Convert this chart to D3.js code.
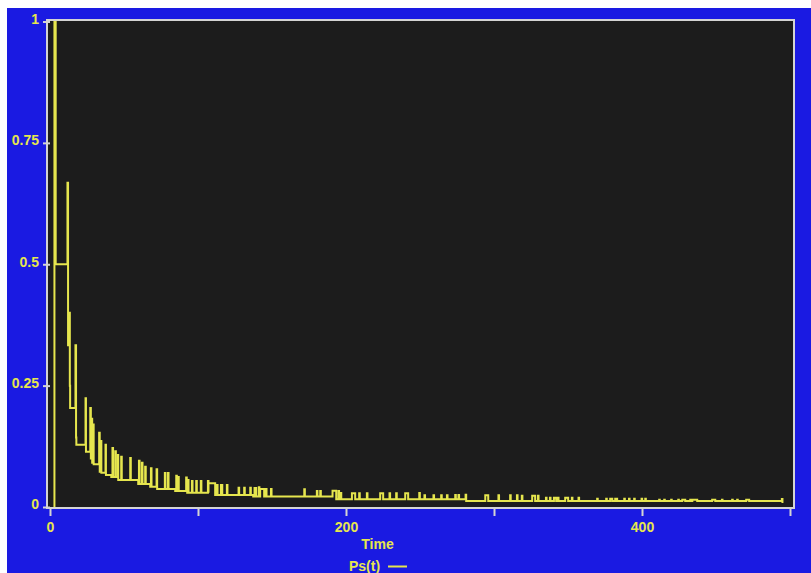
<!DOCTYPE html>
<html>
<head>
<meta charset="utf-8">
<script src="https://cdn.jsdelivr.net/npm/d3@7"></script>
<style>
  html, body { margin: 0; padding: 0; background: #ffffff; }
  svg { display: block; }
  text { font-family: 'Liberation Sans', Arial, sans-serif; font-weight: bold; }
</style>
</head>
<body>
<div id="chart"></div>
<script>
// baseline steps of Ps(t): time at which the level changes, and the new level
const baseT = [3.0, 3.0, 3.85, 11.8, 12.2, 13.2, 13.4, 13.6, 17.2, 17.6, 17.8,
  24.0, 24.3, 27.2, 27.6, 28.0, 28.5, 29.0, 29.5, 33.2, 33.6, 34.4, 34.7,
  37.5, 37.8, 41.4, 46.1, 59.6, 67.7, 72.4, 84.6, 92.7, 111.6, 137.3,
  193.4, 281.2, 494.9];
const baseV = [0, 1, 0.5, 0.668, 0.333, 0.4, 0.25, 0.204, 0.333, 0.143, 0.128,
  0.224, 0.114, 0.204, 0.1, 0.182, 0.091, 0.17, 0.088, 0.153, 0.0727, 0.136, 0.0707,
  0.128, 0.066, 0.0618, 0.0556, 0.0474, 0.0418, 0.0371, 0.033, 0.0295, 0.0247, 0.0216,
  0.0159, 0.0124, 0.0082];

// short excursions above the baseline: start, end, peak
const spikeStart = [42.2, 44.1, 45.9, 48.1, 54.2, 60.1, 62.1, 64.3, 68.2, 72.0,
  77.6, 79.7, 85.3, 86.6, 92.0, 93.2, 95.9, 98.8, 101.9, 106.7, 107.1,
  112.8, 115.5, 119.5, 127.4, 131.2, 135.3, 138.2, 141.1, 142.0, 145.9, 149.3,
  171.8, 180.3, 182.6, 190.9, 194.9, 195.6, 204.0, 208.9, 214.1, 223.1, 229.4,
  233.9, 240.0, 249.5, 253.0, 259.1, 264.3, 268.2, 273.8, 276.0, 280.8,
  294.1, 303.0, 310.9, 315.5, 318.8, 325.8, 329.7, 335.1, 337.8, 340.5, 343.2,
  348.1, 352.6, 357.1, 369.7, 375.8, 378.5, 381.9, 388.0, 391.2, 394.7, 399.7,
  402.2, 411.6, 415.0, 419.7, 424.5, 427.2, 432.6, 434.0, 447.4, 454.0, 460.9,
  464.3, 470.4, 494.5];
const spikeEnd = [42.6, 44.5, 46.1, 48.5, 54.6, 60.5, 62.5, 64.7, 68.6, 72.4,
  78.0, 80.1, 85.7, 87.0, 92.4, 93.6, 96.3, 99.2, 102.3, 107.1, 111.6,
  113.2, 116.4, 119.9, 127.8, 131.6, 135.7, 139.3, 141.5, 144.7, 146.3, 149.7,
  172.2, 180.7, 183.0, 193.4, 195.3, 196.8, 206.2, 209.3, 214.5, 225.1, 229.8,
  234.3, 242.0, 249.9, 253.4, 259.5, 264.7, 268.6, 274.2, 276.4, 281.2,
  296.1, 303.4, 311.3, 315.9, 319.2, 327.8, 330.1, 335.5, 338.2, 342.0, 343.6,
  350.1, 353.0, 357.5, 370.1, 376.2, 379.9, 383.2, 388.4, 391.6, 395.1, 400.1,
  402.6, 412.0, 415.4, 420.1, 424.9, 429.2, 433.0, 437.3, 449.5, 454.4, 461.3,
  464.7, 472.4, 494.9];
const spikePeak = [0.1216, 0.115, 0.107, 0.1036, 0.101, 0.0954, 0.0913, 0.083, 0.080, 0.078,
  0.070, 0.070, 0.0645, 0.062, 0.061, 0.0556, 0.0536, 0.0536, 0.0536, 0.0536, 0.0488,
  0.0453, 0.0453, 0.0453, 0.0398, 0.0398, 0.0398, 0.039, 0.0406, 0.037, 0.037, 0.037,
  0.0365, 0.033, 0.033, 0.0336, 0.033, 0.0288, 0.0282, 0.0282, 0.0282, 0.0282, 0.0282,
  0.0282, 0.0282, 0.0288, 0.024, 0.024, 0.024, 0.024, 0.0247, 0.0247, 0.0253,
  0.024, 0.024, 0.024, 0.024, 0.0233, 0.0233, 0.0233, 0.0192, 0.0192, 0.0192, 0.0192,
  0.0192, 0.0192, 0.0192, 0.0171, 0.0171, 0.0171, 0.0171, 0.0171, 0.0171, 0.0171, 0.0171,
  0.0171, 0.015, 0.015, 0.015, 0.015, 0.015, 0.015, 0.015, 0.015, 0.015, 0.015,
  0.015, 0.015, 0.0165];

const yTicks = [0, 0.25, 0.5, 0.75, 1];
const xTicks = [0, 100, 200, 300, 400, 500];
const xLabelled = [0, 200, 400];

const totalWidth = 811;
const totalHeight = 573;
const blue = '#1a1ae2';
const yellow = '#e6e64e';
const grey = '#d4d4d4';

let svg = d3.select('#chart').append('svg')
    .attr('width', totalWidth)
    .attr('height', totalHeight);

svg.append('rect')
    .attr('x', 7).attr('y', 8)
    .attr('width', totalWidth - 7).attr('height', totalHeight - 8)
    .attr('fill', blue);

let x = d3.scaleLinear().domain([0, 500]).range([50, 790]);
let y = d3.scaleLinear().domain([0, 1]).range([507, 21.5]);

// plot area
svg.append('rect')
    .attr('x', 47).attr('y', 20)
    .attr('width', 747).attr('height', 488)
    .attr('fill', '#1c1c1c')
    .attr('stroke', grey)
    .attr('stroke-width', 2);

svg.append('clipPath').attr('id', 'clip')
  .append('rect')
    .attr('x', 48).attr('y', 21)
    .attr('width', 745).attr('height', 486);

// build the series from baseline steps and spikes
function baseAt(t) {
  let v = baseV[0];
  for (let i = 0; i < baseT.length; i++) {
    if (baseT[i] <= t) v = baseV[i];
  }
  return v;
}

let points = baseT.map(function(t, i) {
  return {t: t, v: baseV[i]};
});
for (let i = 0; i < spikeStart.length; i++) {
  points.push({t: spikeStart[i], v: spikePeak[i]});
  points.push({t: spikeEnd[i], v: baseAt(spikeEnd[i])});
}
points.sort(function(a, b) {
  return a.t - b.t;
});

let line = d3.line()
    .x(function(d) {
      return x(d.t);
    })
    .y(function(d) {
      return y(d.v);
    })
    .curve(d3.curveStepAfter);

svg.append('path')
    .datum(points)
    .attr('clip-path', 'url(#clip)')
    .attr('fill', 'none')
    .attr('stroke', yellow)
    .attr('stroke-width', 2)
    .attr('d', line);

// axes
let axisLeft = svg.append('g')
    .attr('transform', 'translate(50,0)')
    .call(d3.axisLeft(y).tickValues(yTicks).tickSizeInner(7).tickSizeOuter(0)
      .tickPadding(4).tickFormat(d3.format('')));

let axisBottom = svg.append('g')
    .attr('transform', 'translate(0,508)')
    .call(d3.axisBottom(x).tickValues(xTicks).tickSizeInner(8).tickSizeOuter(0)
      .tickPadding(6)
      .tickFormat(function(d) {
        return xLabelled.indexOf(d) >= 0 ? d : '';
      }));

[axisLeft, axisBottom].forEach(function(a) {
  a.select('.domain').remove();
  a.selectAll('line').attr('stroke', grey).attr('stroke-width', 2);
  a.selectAll('text')
      .attr('fill', yellow)
      .style('font-size', '14px')
      .style('font-family', "'Liberation Sans', Arial, sans-serif")
      .style('font-weight', 'bold');
});
axisLeft.selectAll('text').attr('y', -2.5);

// titles and legend
svg.append('text')
    .attr('x', 377.5).attr('y', 549)
    .attr('text-anchor', 'middle')
    .attr('fill', yellow)
    .style('font-size', '14px')
    .text('Time');

svg.append('text')
    .attr('x', 349).attr('y', 571)
    .attr('fill', yellow)
    .style('font-size', '14px')
    .text('Ps(t)');

svg.append('line')
    .attr('x1', 388).attr('x2', 407)
    .attr('y1', 566.5).attr('y2', 566.5)
    .attr('stroke', yellow)
    .attr('stroke-width', 2);
</script>
</body>
</html>
